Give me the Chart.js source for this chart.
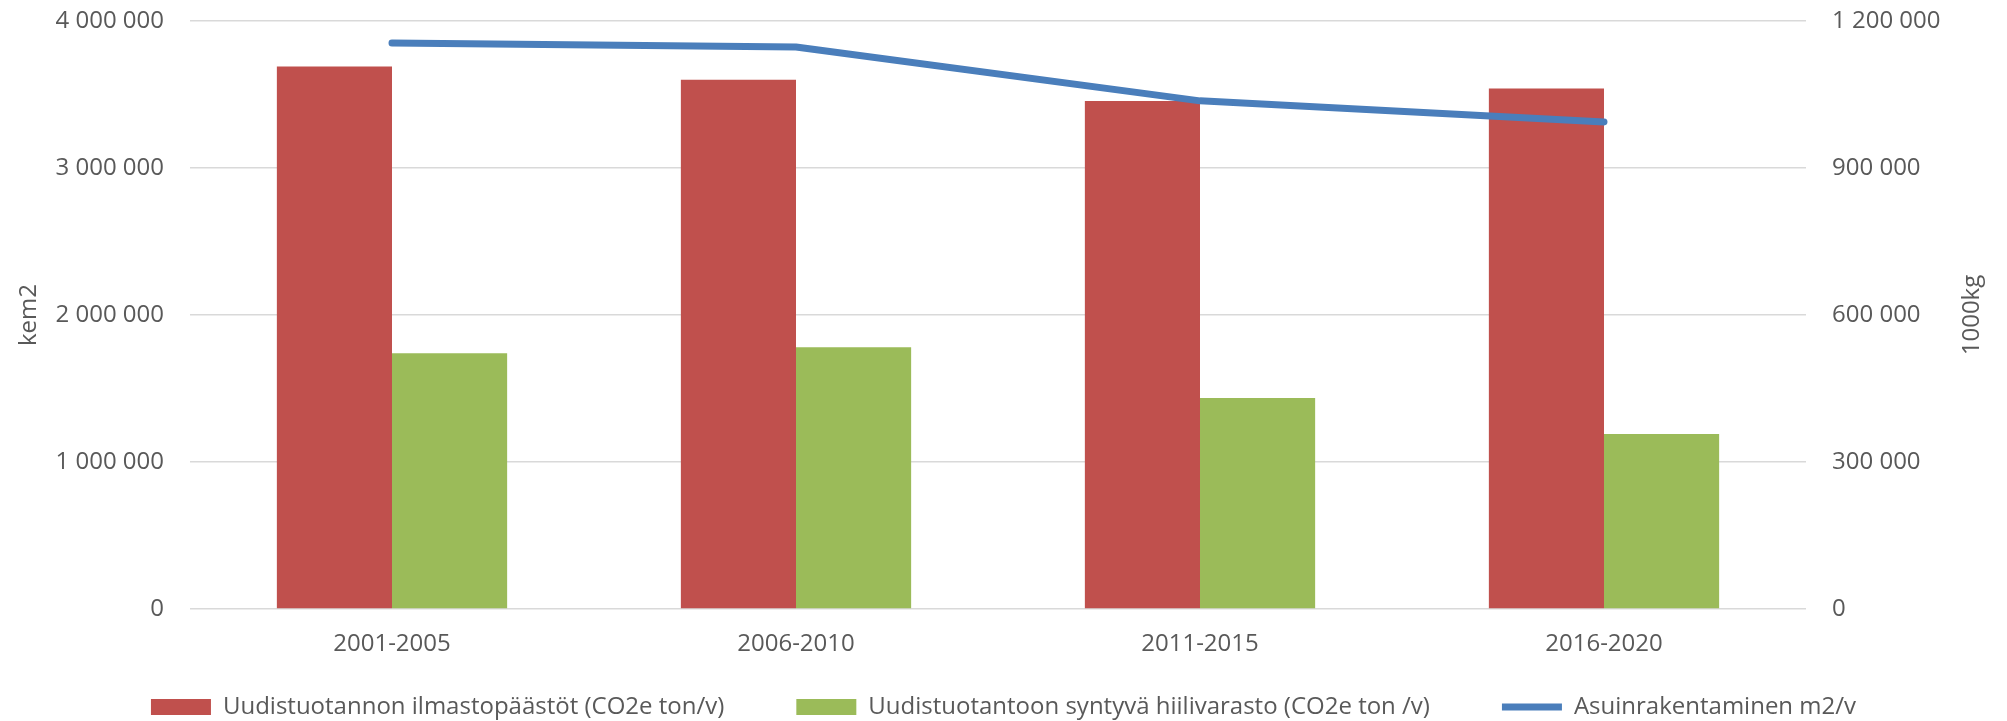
<!DOCTYPE html>
<html lang="fi">
<head>
<meta charset="utf-8">
<title>Asuinrakentaminen ja uudistuotannon päästöt</title>
<script src="https://cdn.jsdelivr.net/npm/chart.js@4.4.1/dist/chart.umd.min.js"></script>
<style>
    html, body { margin: 0; padding: 0; background: #fff; }
    #wrap { width: 2007px; height: 721px; }
</style>
</head>
<body>
<div id="wrap"><canvas id="chart" width="2007" height="721"></canvas></div>
<script>
// --- Data ---
const periods = ['2001-2005', '2006-2010', '2011-2015', '2016-2020'];
const emissions = [3690000, 3600000, 3455000, 3540000];   // Uudistuotannon ilmastopäästöt
const carbonStock = [1740000, 1780000, 1435000, 1190000]; // hiilivarasto
const housing = [1155000, 1147000, 1037000, 994000];      // Asuinrakentaminen m2/v
const leftTicks = [0, 1000000, 2000000, 3000000, 4000000];
const rightTicks = [0, 300000, 600000, 900000, 1200000];

const textColor = '#595959';
const fontFamily = '"Open Sans", "Liberation Sans", sans-serif';

// space as thousands separator, e.g. 4 000 000
const fmt = (v) => String(v).replace(/\B(?=(\d{3})+(?!\d))/g, ' ');

// right axis title reads bottom-to-top in the original
const rightTitle = {
    id: 'rightTitle',
    afterDraw(chart) {
        const s = chart.scales.y1;
        const ctx = chart.ctx;
        ctx.save();
        ctx.translate(s.right - 35, (s.top + s.bottom) / 2);
        ctx.rotate(-Math.PI / 2);
        ctx.fillStyle = textColor;
        ctx.font = '24px ' + fontFamily;
        ctx.textAlign = 'center';
        ctx.textBaseline = 'middle';
        ctx.fillText('1000kg', 0, 0);
        ctx.restore();
    }
};

// keep the plot area where the original has it (tick padding would push it down)
const fixY = (width) => (scale) => {
    scale.width = width;
    scale.paddingTop = 14;
    scale.paddingBottom = 14;
};

const ctx = document.getElementById('chart').getContext('2d');
new Chart(ctx, {
    type: 'bar',
    data: {
        labels: periods,
        datasets: [
            {
                type: 'bar',
                label: 'Uudistuotannon ilmastopäästöt (CO2e ton/v)',
                data: emissions,
                backgroundColor: '#C0504D',
                borderWidth: 0,
                pointStyle: 'rect',
                yAxisID: 'y',
                order: 1
            },
            {
                type: 'bar',
                label: 'Uudistuotantoon syntyvä hiilivarasto (CO2e ton /v)',
                data: carbonStock,
                backgroundColor: '#9BBB59',
                borderWidth: 0,
                pointStyle: 'rect',
                yAxisID: 'y',
                order: 1
            },
            {
                type: 'line',
                label: 'Asuinrakentaminen m2/v',
                data: housing,
                borderColor: '#4A7EBB',
                backgroundColor: '#4A7EBB',
                borderWidth: 7,
                borderCapStyle: 'round',
                borderJoinStyle: 'round',
                pointRadius: 0,
                pointStyle: 'line',
                tension: 0,
                yAxisID: 'y1',
                order: 0
            }
        ]
    },
    options: {
        responsive: false,
        devicePixelRatio: 1,
        animation: false,
        layout: { padding: { top: 21, left: 0, right: 0, bottom: 0 } },
        datasets: {
            bar: { categoryPercentage: 0.57, barPercentage: 1.0 }
        },
        plugins: {
            tooltip: { enabled: false },
            legend: {
                position: 'bottom',
                maxHeight: 98,
                labels: {
                    usePointStyle: true,
                    pointStyleWidth: 60,
                    boxHeight: 16,
                    padding: 72,
                    color: textColor,
                    font: { family: fontFamily, size: 24 },
                    sort: (a, b) => a.datasetIndex - b.datasetIndex
                }
            }
        },
        scales: {
            x: {
                type: 'category',
                position: 'bottom',
                grid: { display: false, drawTicks: false },
                border: { display: false },
                // mirror avoids clipping the labels to the thin axis box
                ticks: { mirror: true, color: textColor, padding: -50, font: { family: fontFamily, size: 24 } },
                afterFit: (scale) => { scale.height = 14; }
            },
            y: {
                type: 'linear',
                position: 'left',
                min: 0,
                max: 4000000,
                afterBuildTicks: (scale) => { scale.ticks = leftTicks.map(v => ({ value: v })); },
                grid: { color: '#D9D9D9', lineWidth: 1.5, drawTicks: false },
                border: { display: false },
                ticks: {
                    color: textColor,
                    padding: 26,
                    font: { family: fontFamily, size: 24 },
                    callback: (v) => fmt(v)
                },
                title: {
                    display: true,
                    text: 'kem2',
                    color: textColor,
                    padding: { top: 15, bottom: 0 },
                    font: { family: fontFamily, size: 24 }
                },
                afterFit: fixY(190)
            },
            y1: {
                type: 'linear',
                position: 'right',
                min: 0,
                max: 1200000,
                afterBuildTicks: (scale) => { scale.ticks = rightTicks.map(v => ({ value: v })); },
                grid: { display: false, drawTicks: false },
                border: { display: false },
                ticks: {
                    color: textColor,
                    padding: 26,
                    font: { family: fontFamily, size: 24 },
                    callback: (v) => fmt(v)
                },
                afterFit: fixY(201)
            }
        }
    },
    plugins: [rightTitle]
});
</script>
</body>
</html>
